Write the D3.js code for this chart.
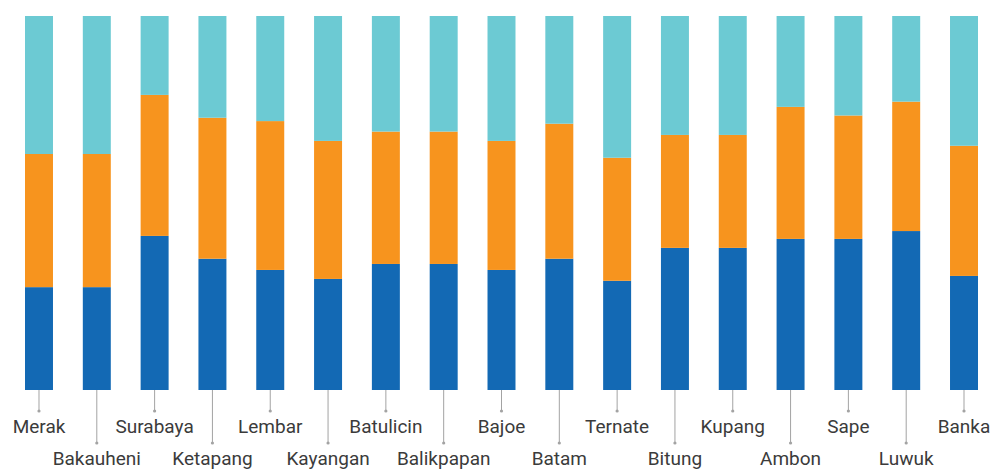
<!DOCTYPE html>
<html>
<head>
<meta charset="utf-8">
<script src="https://cdn.jsdelivr.net/npm/d3@7"></script>
<style>
  html, body { margin: 0; padding: 0; background: #fff; }
  svg { display: block; }
  .lbl { font-family: Roboto, "Open Sans", sans-serif; font-size: 19px; fill: #3b3b3b; }
</style>
</head>
<body>
<svg id="chart" width="1006" height="469"></svg>
<script>
// Ports, left to right
const ports = ["Merak", "Bakauheni", "Surabaya", "Ketapang", "Lembar", "Kayangan",
  "Batulicin", "Balikpapan", "Bajoe", "Batam", "Ternate", "Bitung", "Kupang",
  "Ambon", "Sape", "Luwuk", "Banka"];

// Shares (%) of each port, bottom to top
const seriesA = [27.5, 27.5, 41.2, 35.1, 32.1, 29.7, 33.7, 33.7, 32.1, 35.1, 29.2, 38.0, 38.0, 40.4, 40.4, 42.5, 30.5];
const seriesB = [35.6, 35.6, 37.7, 37.7, 39.8, 36.9, 35.4, 35.4, 34.5, 36.1, 32.9, 30.2, 30.2, 35.3, 33.0, 34.6, 34.8];
const seriesC = [36.9, 36.9, 21.1, 27.2, 28.1, 33.4, 30.9, 30.9, 33.4, 28.8, 37.9, 31.8, 31.8, 24.3, 26.6, 22.9, 34.7];

const keys = ["a", "b", "c"];
const colors = { a: "#1369b4", b: "#f7941e", c: "#6ccad3" };

const rows = ports.map((p, i) => ({ port: p, a: seriesA[i], b: seriesB[i], c: seriesC[i] }));

const svg = d3.select("#chart");
const plotTop = 16, plotBottom = 390;

const x = d3.scaleBand()
  .domain(ports)
  .range([25, 978])
  .paddingInner(0.516)
  .paddingOuter(0);

const y = d3.scaleLinear().domain([0, 1]).range([plotBottom, plotTop]);

const stacked = d3.stack().keys(keys).offset(d3.stackOffsetExpand)(rows);

svg.append("g")
  .selectAll("g")
  .data(stacked)
  .join("g")
  .attr("fill", d => colors[d.key])
  .selectAll("rect")
  .data(d => d)
  .join("rect")
  .attr("x", d => x(d.data.port))
  .attr("width", x.bandwidth())
  .attr("y", d => y(d[1]))
  .attr("height", d => y(d[0]) - y(d[1]));

// Category labels, staggered on two rows with leader ticks
const shortEnd = 411, longEnd = 443;
const lab = svg.append("g")
  .selectAll("g")
  .data(ports)
  .join("g")
  .attr("transform", d => `translate(${x(d) + x.bandwidth() / 2},0)`);

lab.append("line")
  .attr("x1", 0).attr("x2", 0)
  .attr("y1", plotBottom)
  .attr("y2", (d, i) => i % 2 === 0 ? shortEnd : longEnd)
  .attr("stroke", "#a3a3a3")
  .attr("stroke-width", 1);

lab.append("circle")
  .attr("cx", 0)
  .attr("cy", (d, i) => i % 2 === 0 ? shortEnd : longEnd)
  .attr("r", 1.6)
  .attr("fill", "#a3a3a3");

lab.append("text")
  .attr("class", "lbl")
  .attr("text-anchor", "middle")
  .attr("y", (d, i) => i % 2 === 0 ? 432.5 : 464.5)
  .text(d => d);
</script>
</body>
</html>
